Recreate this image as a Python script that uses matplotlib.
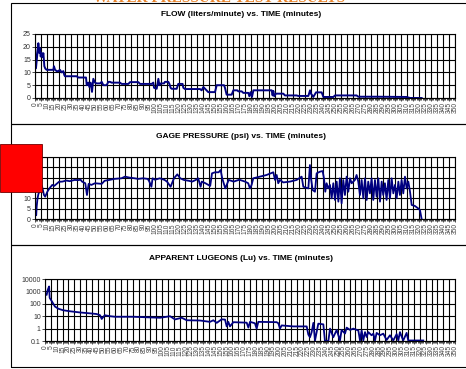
import matplotlib
matplotlib.use("Agg")
import matplotlib.pyplot as plt
from matplotlib.patches import Rectangle
from matplotlib.ticker import MultipleLocator, FixedLocator, FixedFormatter

plt.rcParams['font.family'] = ['Liberation Sans', 'DejaVu Sans']

# (minutes, liters/minute)
flow_readings = [
    (0, 20.1), (0.8, 11.6), (2.8, 21.4), (3.6, 17.6), (4.2, 19.5), (4.7, 16.2),
    (5.6, 17.6), (6.1, 16.0), (7.0, 17.5), (7.8, 12.4), (8.6, 11.5), (9.7, 11.0),
    (15.3, 11.0), (15.8, 12.4), (16.7, 11.0), (18.1, 10.5), (19.4, 10.5), (20.8, 11.0),
    (22.2, 10.0), (23.6, 10.5), (24.4, 9.0), (25.0, 8.5), (34.7, 8.5), (36.1, 8.0),
    (42.5, 8.0), (43.1, 5.0), (44.4, 6.0), (45.3, 4.3), (46.4, 6.0), (47.5, 2.4),
    (48.6, 7.5), (50.0, 6.0), (51.4, 5.7), (54.2, 5.7), (55.6, 6.3), (57.0, 5.0),
    (59.7, 5.0), (61.1, 6.3), (62.5, 6.3), (63.9, 6.0), (70.8, 6.0), (72.2, 5.5),
    (77.8, 5.5), (79.2, 6.2), (86.1, 6.2), (87.5, 5.5), (97.2, 5.5), (98.6, 6.0),
    (99.2, 4.0), (101.4, 3.6), (102.8, 7.5), (103.6, 5.0), (104.7, 5.7), (107.5, 5.7),
    (108.3, 6.3), (111.1, 6.3), (112.0, 5.5), (113.0, 4.0), (113.9, 3.6), (118.1, 3.6),
    (119.4, 5.5), (123.0, 5.5), (123.6, 4.0), (125.0, 3.5), (137.5, 3.5), (138.9, 3.0),
    (140.3, 4.3), (141.7, 3.6), (144.4, 2.3), (150.0, 2.3), (151.4, 5.0), (157.5, 5.0),
    (158.3, 4.0), (159.7, 1.3), (163.9, 1.3), (165.3, 3.0), (168.6, 3.0), (169.4, 2.6),
    (172.2, 2.6), (173.6, 2.0), (177.8, 2.0), (178.6, 0.7), (179.7, 2.3), (180.8, 0.4),
    (182.0, 3.0), (197.2, 3.0), (198.0, 1.0), (198.6, 2.8), (199.4, 0.7), (200.8, 1.7),
    (206.9, 1.7), (208.3, 1.0), (218.0, 1.0), (219.4, 0.8), (227.8, 0.8), (229.2, 3.0),
    (230.0, 1.7), (231.9, 0.4), (234.2, 2.2), (238.9, 2.2), (240.3, 0.4), (248.6, 0.4),
    (250.0, 1.0), (268.0, 1.0), (269.4, 0.5), (284.7, 0.5), (309.7, 0.4), (312.5, 0.0),
    (322.2, 0.0),
]

# (minutes, psi)
pressure_readings = [
    (0, 5.5), (0.5, 3.0), (1.0, 1.8), (1.4, 6.0), (2.0, 9.5), (2.8, 12.0),
    (3.6, 13.2), (4.2, 15.5), (4.7, 14.0), (5.8, 16.0), (7.5, 11.6), (8.5, 10.8),
    (10.3, 13.2), (12, 14.8), (14.4, 16.5), (16, 16.0), (18.6, 17.3), (20, 18.0),
    (22.8, 18.1), (26, 18.6), (29, 18.3), (33, 18.9), (36, 18.8), (38, 19.0),
    (39.2, 18.1), (41.9, 17.3), (43.3, 11.6), (44.7, 17.0), (47, 16.5), (50, 17.3),
    (55.6, 17.0), (58, 18.5), (62, 18.9), (66, 19.4), (72, 19.7), (75, 20.5),
    (79, 20.0), (83, 19.7), (86, 19.4), (90, 19.7), (94, 19.4), (95.3, 18.1),
    (97, 15.6), (98, 19.7), (100, 19.0), (104, 19.7), (108, 18.9), (110, 18.1),
    (113, 15.6), (115.8, 19.7), (118.6, 21.6), (121, 19.7), (124, 18.9), (128, 18.5),
    (131, 18.1), (134, 18.9), (136, 19.7), (138, 15.6), (139, 18.1), (142, 17.3),
    (146, 16.0), (147.5, 22.1), (150, 22.6), (153, 22.6), (154.7, 23.7), (156, 19.7),
    (158.6, 14.8), (161.4, 18.9), (165.6, 18.1), (169.7, 18.9), (170.8, 18.9),
    (175, 18.1), (177.7, 17.3), (179.1, 14.8), (180.5, 16.5), (181.9, 19.7),
    (187.5, 20.5), (193, 21.3), (198.6, 22.6), (200, 18.9), (201.4, 21.3),
    (202.7, 17.3), (204.1, 18.9), (206.9, 17.7), (212.5, 18.1), (218, 18.9),
    (222.2, 20.5), (223.6, 15.6), (227.8, 14.8), (229.1, 26.1), (230, 19.7),
    (231.4, 14.0), (233.3, 13.2), (234.7, 22.1), (237.5, 22.9), (239.7, 23.2),
    (240.8, 19.7), (241.9, 13.2), (243, 17.3), (244.4, 14.8), (245.8, 16.5),
    (247.2, 10.0), (248.6, 17.3), (250, 9.2), (251.4, 18.1), (252.8, 8.4),
    (254.1, 19.7), (255.5, 7.6), (256.9, 18.9), (258.3, 11.6), (259.7, 20.5),
    (261.1, 13.2), (262.5, 19.7), (263.9, 17.3), (266.6, 18.9), (268, 21.3),
    (269.4, 18.1), (270.8, 11.6), (272.2, 18.9), (273.6, 10.0), (275, 19.7),
    (276.4, 9.2), (277.7, 18.1), (279.1, 12.4), (280.5, 19.7), (281.9, 9.2),
    (283.3, 18.9), (284.7, 10.8), (286.1, 19.7), (287.5, 8.4), (288.9, 18.1),
    (290.2, 11.6), (291.6, 17.3), (293, 9.2), (294.4, 18.9), (295.8, 10.0),
    (297.2, 19.7), (298.6, 12.4), (300, 16.5), (301.4, 10.0), (302.8, 18.1),
    (304.1, 11.6), (305.5, 18.9), (306.9, 12.4), (308.3, 20.5), (309.7, 14.8),
    (311.1, 18.1), (312.5, 13.2), (313.9, 6.8), (316.6, 6.3), (319.4, 5.1),
    (320.8, 4.3), (322.2, 0.0),
]

# (minutes, Lu)
lugeon_readings = [
    (0, 700), (1.4, 520), (2.3, 1300), (3.5, 2500), (4.0, 300), (6.0, 150),
    (8.5, 60), (11.4, 40), (15.6, 30), (21.3, 25), (29.9, 20), (38.4, 17),
    (44.0, 15), (47.0, 12), (48.4, 6), (51.0, 12), (55.5, 10), (59.8, 9),
    (64.0, 9), (75.4, 9), (89.6, 8), (98.2, 7.5), (103.9, 9), (106.7, 10),
    (111.0, 5.5), (116.7, 7.5), (121.0, 4.7), (132.3, 4.5), (140.8, 3.5),
    (143.7, 4.7), (146.6, 2.9), (150.8, 5.6), (153.7, 5.3), (155.1, 1.5),
    (156.5, 3.5), (157.9, 1.5), (160.8, 3.3), (172.2, 3.0), (173.6, 1.2),
    (175.0, 3.5), (179.2, 2.7), (180.7, 1.0), (182.1, 3.5), (197.7, 3.3),
    (199.2, 2.7), (200.6, 1.0), (202.0, 1.8), (212.0, 1.5), (223.4, 1.5),
    (224.8, 0.33), (226.2, 0.2), (227.6, 0.5), (229.1, 2.9), (230.5, 0.11),
    (233.3, 2.5), (237.6, 2.2), (239.0, 0.1), (241.9, 0.1), (243.3, 1.0),
    (246.1, 0.2), (249.0, 0.78), (251.8, 0.11), (253.2, 0.78), (256.1, 0.4),
    (257.5, 1.2), (260.4, 0.78), (263.2, 1.0), (267.5, 0.7), (268.9, 0.11),
    (270.3, 0.7), (271.7, 0.11), (273.2, 0.52), (274.6, 0.21), (276.0, 0.52),
    (278.8, 0.29), (280.3, 0.39), (281.7, 0.11), (283.1, 0.45), (285.9, 0.29),
    (288.8, 0.39), (291.6, 0.12), (294.5, 0.29), (297.3, 0.11), (300.2, 0.36),
    (301.6, 0.11), (303.0, 0.52), (305.8, 0.11), (308.7, 0.45), (310.1, 0.11),
    (314.4, 0.11), (322.9, 0.11),
]

time_ticks = list(range(0, 355, 5))

W, H = 466, 369
fig = plt.figure(figsize=(W / 100, H / 100), dpi=100)


def px_axes(left, top, right, bottom):
    return fig.add_axes([left / W, 1 - bottom / H, (right - left) / W, (bottom - top) / H])


def style_axes(ax, title_y, title):
    ax.set_xlim(0, 350)
    ax.xaxis.set_major_locator(FixedLocator(time_ticks))
    ax.xaxis.set_major_formatter(FixedFormatter([str(t) for t in time_ticks]))
    ax.xaxis.set_minor_locator(MultipleLocator(1))
    ax.tick_params(axis='x', which='major', labelsize=4.8, labelrotation=90,
                   labelcolor='#444444', length=2, width=0.5, pad=1, direction='out')
    ax.tick_params(axis='x', which='minor', length=1.5, width=0.5, direction='out')
    ax.tick_params(axis='y', which='major', labelsize=5, labelcolor='#333333',
                   length=2, width=0.5, pad=1, direction='out')
    ax.grid(True, which='major', color='black', linewidth=0.8)
    ax.set_axisbelow(True)
    for s in ax.spines.values():
        s.set_linewidth(0.8)
    fig.text(0.518, 1 - title_y / H, title, ha='center', va='center',
             fontsize=6, fontweight='bold')


# panel frames
for top, bottom in [(3, 124), (124, 245), (245, 367)]:
    fig.add_artist(Rectangle((11 / W, 1 - bottom / H), (480 - 11) / W, (bottom - top) / H,
                             transform=fig.transFigure, fill=False,
                             edgecolor='black', linewidth=0.8))

fig.text(0.47, 1 - 2.0 / H, 'WATER PRESSURE TEST RESULTS', ha='center', va='baseline',
         fontsize=11, fontweight='bold', color='#e8842c', family='Liberation Serif')

line_color = '#000080'

ax1 = px_axes(35, 34, 455, 98)
t, v = zip(*flow_readings)
ax1.plot(t, v, color=line_color, linewidth=1.4)
ax1.set_ylim(0, 25)
ax1.yaxis.set_major_locator(MultipleLocator(5))
style_axes(ax1, 15, 'FLOW (liters/minute) vs. TIME (minutes)')

ax2 = px_axes(35, 157, 455, 219)
t, v = zip(*pressure_readings)
ax2.plot(t, v, color=line_color, linewidth=1.3)
ax2.set_ylim(0, 30)
ax2.yaxis.set_major_locator(MultipleLocator(5))
style_axes(ax2, 137, 'GAGE PRESSURE (psi) vs. TIME (minutes)')

ax3 = px_axes(45, 279, 455, 341)
t, v = zip(*lugeon_readings)
ax3.plot(t, v, color=line_color, linewidth=1.3)
ax3.set_yscale('log')
ax3.set_ylim(0.1, 10000)
lu_ticks = [0.1, 1, 10, 100, 1000, 10000]
ax3.yaxis.set_major_locator(FixedLocator(lu_ticks))
ax3.yaxis.set_major_formatter(FixedFormatter(['0.1', '1', '10', '100', '1000', '10000']))
ax3.yaxis.set_minor_locator(FixedLocator([]))
style_axes(ax3, 259, 'APPARENT LUGEONS (Lu) vs. TIME (minutes)')

# marker box over the pressure axis
fig.add_artist(Rectangle((0, 1 - 192 / H), 42 / W, 48 / H, transform=fig.transFigure,
                         facecolor='#ff0000', edgecolor='#700000', linewidth=0.6,
                         zorder=10))

fig.savefig('out.png', dpi=100)
